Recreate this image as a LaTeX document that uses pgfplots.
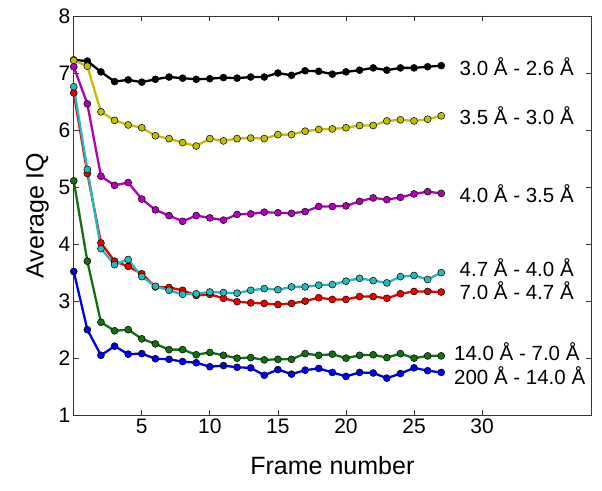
\documentclass[border=0pt]{standalone}
\usepackage{fontspec}
\setmainfont{Liberation Sans}
\usepackage{pgfplots}
\pgfplotsset{compat=1.18}
\usepackage{pgfplotstable}

\definecolor{cBlack}{RGB}{0,0,0}
\definecolor{cYellow}{RGB}{192,192,0}
\definecolor{cMagenta}{RGB}{180,0,180}
\definecolor{cCyan}{RGB}{40,184,184}
\definecolor{cRed}{RGB}{235,0,0}
\definecolor{cGreen}{RGB}{20,110,20}
\definecolor{cBlue}{RGB}{0,0,235}

% frame, then one column per resolution shell
\pgfplotstableread{
f   s1   s2   s3   s4   s5   s6   s7
0   7.23 7.22 7.11 6.76 6.65 5.11 3.52
1   7.21 7.12 6.46 5.31 5.24 3.70 2.50
2   7.02 6.32 5.19 3.92 4.02 2.63 2.05
3   6.85 6.17 5.03 3.64 3.70 2.48 2.21
4   6.88 6.09 5.08 3.73 3.61 2.50 2.07
5   6.84 6.04 4.79 3.43 3.48 2.34 2.08
6   6.89 5.90 4.60 3.26 3.25 2.25 1.99
7   6.93 5.85 4.50 3.19 3.24 2.15 1.98
8   6.91 5.78 4.40 3.12 3.19 2.15 1.94
9   6.89 5.72 4.50 3.13 3.10 2.06 1.92
10  6.90 5.85 4.46 3.16 3.12 2.10 1.85
11  6.92 5.81 4.42 3.15 3.05 2.05 1.87
12  6.91 5.85 4.52 3.14 2.99 2.00 1.84
13  6.93 5.86 4.53 3.19 2.97 2.01 1.83
14  6.93 5.85 4.56 3.22 2.96 1.97 1.70
15  7.00 5.92 4.55 3.20 2.94 1.98 1.80
16  6.96 5.92 4.54 3.25 2.96 1.98 1.72
17  7.04 5.98 4.57 3.25 3.00 2.08 1.79
18  7.03 6.01 4.66 3.28 3.06 2.05 1.82
19  6.98 6.02 4.66 3.29 3.03 2.07 1.75
20  7.02 6.04 4.67 3.35 3.03 2.00 1.68
21  7.05 6.08 4.75 3.40 3.08 2.05 1.75
22  7.09 6.08 4.81 3.36 3.08 2.06 1.74
23  7.05 6.16 4.78 3.32 3.05 2.01 1.65
24  7.09 6.18 4.82 3.43 3.13 2.08 1.73
25  7.09 6.16 4.88 3.45 3.17 2.00 1.83
26  7.11 6.19 4.92 3.38 3.17 2.04 1.78
27  7.13 6.25 4.89 3.50 3.16 2.04 1.75
}\iqdata

\pgfplotsset{
  iq/.style={line width=2.3pt, color=#1, mark=*, mark size=3.5pt,
    mark options={fill=#1, draw=black, line width=0.5pt}},
}

\begin{document}
\begin{tikzpicture}
\begin{axis}[
  name=ax,
  scale only axis,
  width=517pt, height=399pt,
  xmin=0, xmax=38, ymin=1, ymax=8,
  xtick={5,10,...,30}, ytick={1,2,...,8},
  tick align=inside,
  major tick length=5pt,
  axis line style={line width=0.9pt, black!80},
  every tick/.style={line width=0.8pt, black!80},
  /pgf/number format/assume math mode=true,
  tick label style={font=\fontsize{21}{24}\selectfont},
  label style={font=\fontsize{25}{28}\selectfont},
  xlabel={Frame number},
  ylabel={Average IQ},
  xlabel style={at={(axis description cs:0.5,-0.125)}, anchor=center},
  ylabel style={at={(axis description cs:-0.07,0.5)}, anchor=center},
]
\addplot[iq=cBlack] table[x=f, y=s1] {\iqdata};
\addplot[iq=cYellow] table[x=f, y=s2] {\iqdata};
\addplot[iq=cMagenta] table[x=f, y=s3] {\iqdata};
\addplot[iq=cRed] table[x=f, y=s5] {\iqdata};
\addplot[iq=cCyan] table[x=f, y=s4] {\iqdata};
\addplot[iq=cGreen] table[x=f, y=s6] {\iqdata};
\addplot[iq=cBlue] table[x=f, y=s7] {\iqdata};

\begin{scope}[every node/.style={anchor=west, inner sep=0pt, font=\fontsize{20.5}{24}\selectfont}]
\node at (axis cs:28.34,7.12) {3.0 Å - 2.6 Å};
\node at (axis cs:28.34,6.25) {3.5 Å - 3.0 Å};
\node at (axis cs:28.34,4.89) {4.0 Å - 3.5 Å};
\node at (axis cs:28.34,3.59) {4.7 Å - 4.0 Å};
\node at (axis cs:28.34,3.19) {7.0 Å - 4.7 Å};
\node at (axis cs:27.93,2.11) {14.0 Å - 7.0 Å};
\node at (axis cs:27.93,1.70) {200 Å - 14.0 Å};
\end{scope}
\end{axis}
\pgfresetboundingbox
\path[use as bounding box] ([xshift=-73.7pt,yshift=-75pt]ax.south west) rectangle ([xshift=11pt,yshift=16pt]ax.north east);
\end{tikzpicture}
\end{document}
